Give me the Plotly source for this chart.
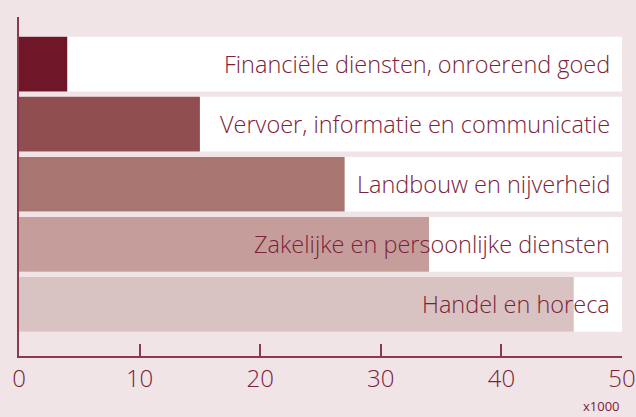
import plotly.graph_objects as go

categories = ["Handel en horeca", "Zakelijke en persoonlijke diensten", "Landbouw en nijverheid",
              "Vervoer, informatie en communicatie", "Financiële diensten, onroerend goed"]
values = [46, 34, 27, 15, 4]
axis_max = [50, 50, 50, 50, 50]
bar_colors = ["#d9c3c2", "#c59e9c", "#a97571", "#904e51", "#6f1629"]
tick_vals = [0, 10, 20, 30, 40, 50]
tick_text = ["0", "10", "20", "30", "40", "50"]

ypos = list(range(len(categories)))
text_color = "#7b2238"
axis_color = "#8a3a4c"
bg = "#f0e4e6"

fig = go.Figure()
fig.add_trace(go.Bar(x=axis_max, y=ypos, orientation="h", marker=dict(color="white", line=dict(width=0)),
                     width=0.91, hoverinfo="skip", showlegend=False))
fig.add_trace(go.Bar(x=values, y=ypos, orientation="h", marker=dict(color=bar_colors, line=dict(width=0)),
                     width=0.91, showlegend=False))

for yi, lab in zip(ypos, categories):
    fig.add_annotation(x=49.2, y=yi, text=lab, showarrow=False, xanchor="right", yanchor="middle",
                       font=dict(family="Open Sans", size=23.5, color=text_color, weight=300))

fig.add_annotation(xref="paper", yref="paper", x=1.0, y=-0.115, xanchor="right", yanchor="top",
                   text="x1000", showarrow=False,
                   font=dict(family="Open Sans", size=13, color=text_color))

fig.update_layout(
    width=636, height=417,
    margin=dict(l=19, r=14, t=17, b=61),
    paper_bgcolor=bg, plot_bgcolor=bg,
    barmode="overlay",
    xaxis=dict(range=[0, 50], tickvals=tick_vals, ticktext=tick_text, showgrid=False, zeroline=False,
               showline=True, linecolor=axis_color, linewidth=2, ticks="inside", ticklen=12,
               tickcolor=axis_color, tickwidth=2, automargin=False,
               tickfont=dict(family="Open Sans", size=24, color=text_color, weight=300)),
    yaxis=dict(range=[-0.858, 4.783], showticklabels=False, showgrid=False, zeroline=False,
               showline=True, linecolor=axis_color, linewidth=2, ticks="", automargin=False),
)

fig.write_html("out.html", config={"displayModeBar": False},
               post_script="document.body.style.margin='0';document.body.style.overflow='hidden';"
                           "document.body.style.background='" + bg + "';")
